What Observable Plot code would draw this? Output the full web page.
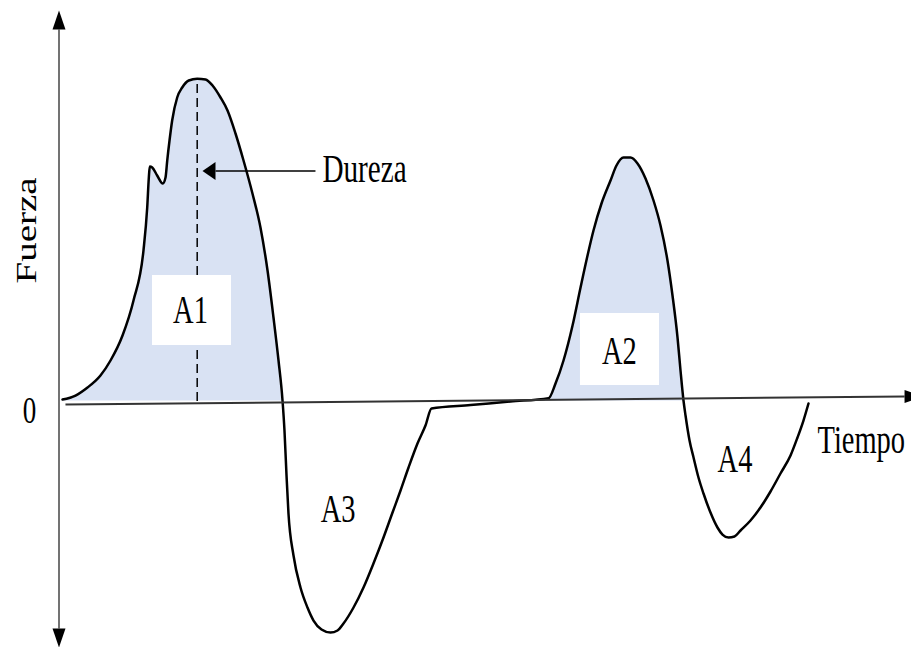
<!DOCTYPE html>
<html><head><meta charset="utf-8">
<script src="https://cdn.jsdelivr.net/npm/d3@7"></script>
<script src="https://cdn.jsdelivr.net/npm/@observablehq/plot@0.6"></script>
<style>html,body{margin:0;padding:0;background:#fff;overflow:hidden}#chart svg{display:block}</style>
</head><body><div id="chart"></div>
<script>
// Texture profile curve: time (arbitrary units) vs force (% of max)
const tiempo = [0.41,1.94,3.35,4.87,6.05,7.46,8.75,9.92,
  10.36,10.55,10.66,10.95,11.53,12.19,12.51,12.71,12.98,13.29,13.88,14.47,15.24,16.23,
  17.21,18.03,18.97,19.79,20.73,21.67,22.72,23.66,24.49,25.19,25.78,26.25,
  26.48,26.72,26.95,27.54,28.36,29.18,29.89,30.83,31.88,32.71,33.41,34.59,35.76,36.93,38.11,39.17,40.11,41.05,42.10,43.04,43.75,
  48.33,53.02,57.49,
  58.31,59.25,60.31,61.25,62.07,62.77,63.71,64.77,65.47,66.29,67.12,67.94,68.88,69.82,70.64,71.46,72.05,72.64,72.99,73.34,
  73.58,74.05,74.52,75.10,75.69,76.51,77.33,77.92,78.63,79.33,80.04,81.21,82.38,83.56,84.73,85.91,86.73,87.43,88.02];
const fuerza = [0.49,1.73,4.20,7.91,12.55,20.28,31.10,46.55,
  59.85,69.12,72.52,72.21,69.74,67.27,69.12,74.37,80.56,86.74,93.85,96.94,99.10,99.63,
  99.41,97.56,93.85,89.83,82.72,74.37,64.17,53.66,40.37,25.84,12.55,0.19,
  -9.09,-23.00,-34.74,-47.73,-57.62,-63.80,-67.82,-70.60,-71.53,-70.91,-68.75,-63.80,-57.62,-50.20,-42.16,-34.44,-27.64,-20.53,-13.11,-7.54,-2.29,
  -1.24,-0.12,0.90,
  5.44,12.55,23.37,35.12,45.01,52.74,61.08,68.19,72.83,75.30,75.30,73.45,68.81,62.01,54.28,43.46,32.64,19.66,9.46,0.19,
  -4.45,-12.18,-17.43,-23.62,-28.56,-34.44,-39.07,-41.24,-42.16,-41.86,-40.00,-36.91,-32.89,-27.94,-22.38,-16.82,-11.25,-6.00,-0.74];

// Area labels
const areaLabels = ["A1","A2","A3","A4"];
const areaLabelT = [15.44, 65.82, 32.77, 79.39];
const areaLabelF = [28.01, 15.40, -33.57, -17.90];

// White label boxes (A1, A2)
const boxT1 = [10.98, 61.24];
const boxT2 = [20.26, 70.52];
const boxF1 = [17.19, 4.82];
const boxF2 = [38.82, 27.08];

// Hardness (Dureza) marker
const durezaT = 16.23;
const durezaF = 99.63;
const durezaArrowT = [18.38, 30.12];
const durezaArrowF = 71.13;
const durezaText = "Dureza";
const durezaTextT = 30.94;
const durezaTextF = 71.54;

// Axes
const axisXT = [0.76, 99.30];
const axisXF = [-1.05, 1.42];
const axisYT = 0;
const axisYF = [114.87, -70.29];
const axisTitleX = "Tiempo";
const axisTitleY = "Fuerza";
const zeroLabel = "0";

const curve = tiempo.map((t, i) => ({t, F: fuerza[i]}));
const labels = areaLabels.map((l, i) => ({l, t: areaLabelT[i], F: areaLabelF[i]}));
const boxes = boxT1.map((v, i) => ({t1: v, t2: boxT2[i], F1: boxF1[i], F2: boxF2[i]}));

const headAxis = {draw(ctx) { ctx.moveTo(0, -19); ctx.lineTo(6.5, 0); ctx.lineTo(-6.5, 0); ctx.closePath(); }};
const headSmall = {draw(ctx) { ctx.moveTo(0, -13); ctx.lineTo(9, 0); ctx.lineTo(-9, 0); ctx.closePath(); }};

const serif = "Liberation Serif, Times New Roman, serif";

const svg = Plot.plot({
  width: 911,
  height: 647,
  x: {domain: [0, 100], range: [58.5, 910], axis: null},
  y: {domain: [-74, 120], range: [640, 12.4], axis: null},
  style: {background: "white", fontFamily: serif},
  marks: [
    Plot.areaY(curve, {x: "t", y: d => Math.max(0, d.F), fill: "#d9e2f3", curve: "monotone-x"}),
    Plot.link([0], {x1: () => durezaT, x2: () => durezaT, y1: () => 0, y2: () => durezaF, stroke: "black", strokeWidth: 1.5, strokeDasharray: "9,5"}),
    Plot.rect(boxes, {x1: "t1", x2: "t2", y1: "F1", y2: "F2", fill: "white"}),
    Plot.line(curve, {x: "t", y: "F", stroke: "black", strokeWidth: 2.5, curve: "monotone-x"}),
    Plot.link([0], {x1: () => axisXT[0], x2: () => axisXT[1], y1: () => axisXF[0], y2: () => axisXF[1], stroke: "#333", strokeWidth: 2}),
    Plot.link([0], {x1: () => axisYT, x2: () => axisYT, y1: () => axisYF[0], y2: () => axisYF[1], stroke: "#444", strokeWidth: 1.5}),
    Plot.dot([0], {x: () => axisYT, y: () => axisYF[0], symbol: headAxis, r: 5, fill: "black", stroke: "none", rotate: 0}),
    Plot.dot([0], {x: () => axisYT, y: () => axisYF[1], symbol: headAxis, r: 5, fill: "black", stroke: "none", rotate: 180}),
    Plot.dot([0], {x: () => axisXT[1], y: () => axisXF[1], symbol: headAxis, r: 5, fill: "black", stroke: "none", rotate: 90}),
    Plot.link([0], {x1: () => durezaArrowT[0], x2: () => durezaArrowT[1], y1: () => durezaArrowF, y2: () => durezaArrowF, stroke: "black", strokeWidth: 1.5}),
    Plot.dot([0], {x: () => durezaArrowT[0], y: () => durezaArrowF, symbol: headSmall, r: 5, fill: "black", stroke: "none", rotate: -90}),
    Plot.text(labels, {x: "t", y: "F", text: "l", fontSize: 39, fontFamily: serif, fill: "black", textAnchor: "middle"}),
    Plot.text([durezaText], {x: () => durezaTextT, y: () => durezaTextF, text: d => d, fontSize: 40, fontFamily: serif, fill: "black", textAnchor: "start"}),
    Plot.text([axisTitleX], {x: () => 89.08, y: () => -12.33, text: d => d, fontSize: 39, fontFamily: serif, fill: "black", textAnchor: "start"}),
    Plot.text([zeroLabel], {x: () => -3.46, y: () => -3.22, text: d => d, fontSize: 37, fontFamily: serif, fill: "black", textAnchor: "middle"}),
    Plot.text([axisTitleY], {x: () => -3.83, y: () => 52.74, text: d => d, fontSize: 39, fontFamily: serif, fill: "black", textAnchor: "middle", rotate: -90})
  ]
});

// The reference's lettering is horizontally condensed: scale each text about its anchor
d3.select(svg).selectAll("text").each(function() {
  const tr = this.getAttribute("transform") || "";
  const sc = /rotate/.test(tr) ? "scale(1,0.73)" : "scale(0.73,1)";
  this.setAttribute("transform", `${tr} ${sc}`);
});

document.getElementById("chart").appendChild(svg);
</script>
</body></html>
